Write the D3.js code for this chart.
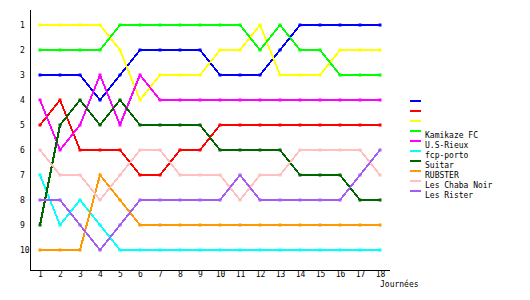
<!DOCTYPE html>
<html>
<head>
<meta charset="utf-8">
<script src="https://cdn.jsdelivr.net/npm/d3@7"></script>
<style>
  body { margin: 0; background: #fff; }
  text { font-family: "DejaVu Sans Mono", monospace; font-size: 8px; fill: #000; }
</style>
</head>
<body>
<div id="chart"></div>
<script>
// rounds (journées) and rank tick labels
var rounds = d3.range(1, 19);
var ranks = d3.range(1, 11);

// team names, in legend order
var teams = ["", "", "", "Kamikaze FC", "U.S-Rieux", "fcp-porto", "Suitar", "RUBSTER", "Les Chaba Noir", "Les Rister"];
var colors = ["#0000ff", "#ff0000", "#ffff00", "#00ff00", "#ff00ff", "#00ffff", "#006600", "#ff9900", "#ffc0c0", "#a35cf5"];

// rank of each team per round
var blueRanks    = [3,3,3,4,3,2,2,2,2,3,3,3,2,1,1,1,1,1];
var redRanks     = [5,4,6,6,6,7,7,6,6,5,5,5,5,5,5,5,5,5];
var yellowRanks  = [1,1,1,1,2,4,3,3,3,2,2,1,3,3,3,2,2,2];
var kamikaze     = [2,2,2,2,1,1,1,1,1,1,1,2,1,2,2,3,3,3];
var usRieux      = [4,6,5,3,5,3,4,4,4,4,4,4,4,4,4,4,4,4];
var fcpPorto     = [7,9,8,9,10,10,10,10,10,10,10,10,10,10,10,10,10,10];
var suitar       = [9,5,4,5,4,5,5,5,5,6,6,6,6,7,7,7,8,8];
var rubster      = [10,10,10,7,8,9,9,9,9,9,9,9,9,9,9,9,9,9];
var chabaNoir    = [6,7,7,8,7,6,6,7,7,7,8,7,7,6,6,6,6,7];
var rister       = [8,8,9,10,9,8,8,8,8,8,7,8,8,8,8,8,7,6];

var series = [blueRanks, redRanks, yellowRanks, kamikaze, usRieux, fcpPorto, suitar, rubster, chabaNoir, rister];

var width = 530, height = 300;

var x = d3.scaleLinear().domain([1, 18]).range([40, 380]);
var y = d3.scaleLinear().domain([1, 10]).range([25, 250]);

var svg = d3.select("#chart").append("svg")
  .attr("width", width)
  .attr("height", height);

// axes frame
var axisLeftX = 30, axisBottomY = 270;

svg.append("line")
  .attr("x1", axisLeftX).attr("x2", axisLeftX)
  .attr("y1", 10).attr("y2", axisBottomY)
  .attr("stroke", "#000").attr("shape-rendering", "crispEdges");
svg.append("line")
  .attr("x1", axisLeftX).attr("x2", x(18) + 10)
  .attr("y1", axisBottomY).attr("y2", axisBottomY)
  .attr("stroke", "#000").attr("shape-rendering", "crispEdges");

// y tick labels (left aligned)
var gy = svg.append("g")
  .attr("transform", "translate(" + axisLeftX + ",0)")
  .call(d3.axisLeft(y).tickValues(ranks).tickSize(0).tickFormat(d3.format("d")));
gy.select(".domain").remove();
gy.selectAll("text")
  .attr("x", -10)
  .attr("text-anchor", "start")
  .style("font-family", "DejaVu Sans Mono, monospace")
  .style("font-size", "8px");

// x tick labels
var gx = svg.append("g")
  .attr("transform", "translate(0," + axisBottomY + ")")
  .call(d3.axisBottom(x).tickValues(rounds).tickSize(0).tickPadding(1).tickFormat(d3.format("d")));
gx.select(".domain").remove();
gx.selectAll("text")
  .style("font-family", "DejaVu Sans Mono, monospace")
  .style("font-size", "8px");

svg.append("text")
  .attr("x", x(18))
  .attr("y", 287)
  .text("Journées");

// lines
var line = d3.line()
  .x(function(d, i) { return x(rounds[i]); })
  .y(function(d) { return y(d); });

series.forEach(function(s, k) {
  svg.append("path")
    .datum(s)
    .attr("d", line)
    .attr("fill", "none")
    .attr("stroke", colors[k])
    .attr("stroke-width", 2)
    .attr("shape-rendering", "crispEdges");

  svg.selectAll(".pt" + k)
    .data(s)
    .enter().append("rect")
    .attr("class", "pt" + k)
    .attr("x", function(d, i) { return x(rounds[i]) - 1.5; })
    .attr("y", function(d) { return y(d) - 1.5; })
    .attr("width", 3)
    .attr("height", 3)
    .attr("fill", colors[k]);
});

// legend
var legend = svg.append("g").attr("transform", "translate(410,101)");
teams.forEach(function(name, k) {
  legend.append("line")
    .attr("x1", 0).attr("x2", 11)
    .attr("y1", k * 10).attr("y2", k * 10)
    .attr("stroke", colors[k])
    .attr("stroke-width", 2);
  legend.append("text")
    .attr("x", 15)
    .attr("y", k * 10 + 6.5)
    .text(name);
});
</script>
</body>
</html>
